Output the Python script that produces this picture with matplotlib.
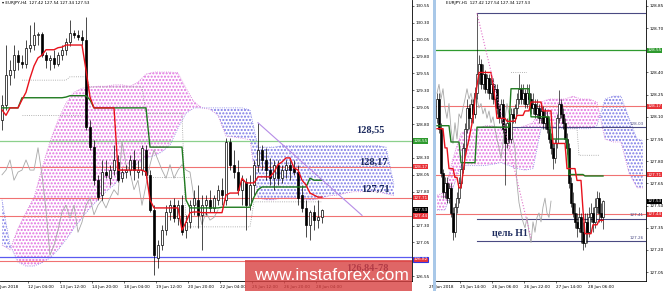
import numpy as np
import matplotlib
matplotlib.use('Agg')
import matplotlib.pyplot as plt
from matplotlib.patches import Rectangle

# ── EURJPY H4 (left panel) ────────────────────────────────────────────────────
h4_open = [128.86, 129.08, 129.53, 129.60, 129.82, 129.72, 129.69, 129.93, 129.97, 130.12,
           130.13, 129.82, 129.75, 129.78, 129.69, 129.82, 129.90, 130.01, 130.15, 130.12,
           130.09, 130.04, 128.76, 128.46, 127.97, 127.75, 128.09, 128.00, 128.12, 128.24,
           128.00, 128.09, 128.12, 128.27, 128.09, 128.12, 128.42, 128.05, 127.53, 126.82,
           127.01, 127.23, 127.50, 127.60, 127.41, 127.60, 127.23, 127.35, 127.60, 127.68,
           127.46, 127.60, 127.68, 127.56, 127.68, 127.83, 127.68, 128.54, 128.20, 128.09,
           127.83, 127.94, 127.60, 127.90, 128.20, 128.42, 128.27, 128.12, 128.00, 128.20,
           128.00, 128.12, 128.20, 128.15, 128.09, 127.75, 127.56, 127.31, 127.50, 127.38,
           127.42]
h4_high = [129.23, 129.97, 129.75, 129.97, 129.90, 129.82, 130.04, 130.27, 130.31, 130.16,
           130.16, 129.87, 129.82, 129.90, 129.87, 129.97, 130.07, 130.34, 130.19, 130.19,
           130.19, 130.38, 128.86, 128.57, 128.05, 128.27, 128.27, 128.20, 128.49, 128.34,
           128.15, 128.20, 128.34, 128.42, 128.27, 128.49, 128.49, 128.12, 127.60, 127.09,
           127.31, 127.60, 127.68, 127.71, 127.68, 127.75, 127.46, 127.68, 127.83, 127.90,
           127.75, 127.75, 127.83, 127.75, 127.90, 128.00, 128.60, 128.60, 128.42, 128.27,
           128.05, 128.00, 128.05, 128.27, 128.82, 128.49, 128.45, 128.30, 128.27, 128.27,
           128.20, 128.27, 128.27, 128.27, 128.20, 127.90, 127.68, 127.53, 127.60, 127.68,
           127.54]
h4_low = [128.71, 129.01, 129.38, 129.48, 129.60, 129.63, 129.63, 129.87, 129.90, 129.97,
          129.79, 129.63, 129.60, 129.63, 129.66, 129.75, 129.82, 129.96, 130.07, 130.04,
          129.97, 128.71, 128.42, 127.90, 127.68, 127.68, 128.00, 127.90, 128.05, 127.94,
          127.94, 128.00, 128.05, 127.97, 128.00, 128.05, 128.00, 127.50, 126.57, 126.67,
          126.94, 127.16, 127.38, 127.35, 127.31, 127.16, 127.12, 127.26, 127.46, 127.26,
          126.94, 127.46, 127.50, 127.50, 127.60, 127.60, 127.60, 128.12, 128.00, 127.75,
          127.60, 127.23, 127.53, 127.75, 128.09, 128.12, 127.97, 127.90, 127.83, 127.90,
          127.93, 128.00, 127.97, 128.05, 127.60, 127.50, 127.13, 127.09, 127.23, 127.26,
          127.34]
h4_close = [129.08, 129.53, 129.60, 129.82, 129.72, 129.69, 129.93, 129.97, 130.12, 130.13,
            129.82, 129.75, 129.78, 129.69, 129.82, 129.90, 130.01, 130.15, 130.12, 130.09,
            130.04, 128.76, 128.46, 127.97, 127.72, 128.09, 128.05, 128.12, 128.27, 127.97,
            128.09, 128.12, 128.27, 128.12, 128.12, 128.45, 128.05, 127.53, 126.86, 127.01,
            127.23, 127.50, 127.60, 127.41, 127.60, 127.20, 127.35, 127.60, 127.71, 127.46,
            127.60, 127.68, 127.56, 127.71, 127.83, 127.75, 128.54, 128.20, 128.09, 127.83,
            127.97, 127.60, 127.90, 128.20, 128.42, 128.27, 128.12, 128.00, 128.20, 128.00,
            128.12, 128.20, 128.12, 128.09, 127.71, 127.56, 127.31, 127.50, 127.38, 127.42,
            127.53]

h4_tenkan = ([129.01, 128.93] + [129.04] * 3 + [129.16, 129.27, 129.48, 129.66, 129.78, 129.82]
             + [129.90] * 3 + [129.93, 129.94] + [129.97] * 5 + [129.60, 129.20] + [129.04] * 6
             + [128.12] * 7 + [128.09, 127.68] + [127.56] * 7 + [127.23, 127.35, 127.49]
             + [127.50] * 2 + [127.49] * 6 + [127.75] + [127.78] * 3 + [128.00] + [127.93] * 3
             + [128.02] * 4 + [128.09, 128.20, 128.24] + [128.30] * 2
             + [128.15, 128.12, 127.97, 127.90, 127.78, 127.75] + [127.72] * 2)
h4_kijun = ([129.04] * 5 + [129.19] * 11 + [129.20] + [129.22] * 5 + [129.16] + [129.04] * 14
            + [128.46] * 9 + [127.68] + [127.56] * 8 + [127.57] * 8 + [127.72, 127.83]
            + [127.87] * 12 + [128.00] + [127.97] * 3)

h4_cloud_x = list(range(0, 100, 2))
h4_span_a = [127.01, 126.94, 127.26, 127.50, 127.71, 128.15, 128.54, 128.86, 129.11, 129.27,
             129.33, 129.35, 129.36, 129.36, 129.38, 129.38, 129.36, 129.42, 129.54, 129.57,
             129.57, 129.57, 129.56, 129.33, 129.13, 129.04, 129.02, 128.93, 128.62, 128.61,
             128.59, 128.57, 127.71, 127.68, 127.68, 127.71, 127.71, 127.71, 127.68, 127.68,
             127.71, 127.74, 127.75, 127.78, 127.80, 127.80, 127.80, 127.80, 127.77, 127.74]
h4_span_b = [127.68, 127.01, 126.76, 126.70, 126.70, 126.75, 126.82, 126.94, 127.09, 127.26,
             127.41, 127.56, 127.68, 127.80, 127.90, 128.03, 128.15, 128.22, 128.30, 128.33,
             128.39, 128.49, 128.74, 128.96, 129.04, 129.04, 129.04, 129.04, 129.04, 129.04,
             129.04, 129.01, 128.46, 128.46, 128.46, 128.48, 128.48, 128.48, 128.48, 128.48,
             128.48, 128.48, 128.48, 128.48, 128.48, 128.48, 128.48, 128.48, 128.46, 127.90]

nan = np.nan
h4_grey_a = ([nan] * 5 + [129.45] * 12 + [129.50] * 5 + [129.35] * 14 + [128.96] * 10
             + [127.28] * 17 + [127.65] * 18)
h4_grey_b = [nan] * 5 + [128.93] * 16 + [nan] * 15 + [128.02] * 12 + [nan] * 33

h4_tick_pos = [6.5, 14.5, 22.5, 30.5, 38.5, 46.5, 54.5, 62.5, 70.5, 78.5]
h4_tick_lab = ['12 Jun 04:00', '13 Jun 12:00', '14 Jun 20:00', '18 Jun 04:00', '19 Jun 12:00',
               '20 Jun 20:00', '22 Jun 04:00', '25 Jun 12:00', '26 Jun 20:00', '28 Jun 04:00']
h4_yticks = [126.55, 127.05, 127.30, 127.80, 128.05, 128.30,
             128.80, 129.05, 129.30, 129.55, 129.80, 130.05, 130.30, 130.55]
h4_trend = ([64, 90], [128.82, 127.45])

# ── EURJPY H1 (right panel) ───────────────────────────────────────────────────
h1_open = [128.09, 128.22, 128.02, 127.72, 127.59, 127.65, 127.55, 127.62, 127.45, 127.32,
           127.49, 127.55, 127.65, 127.75, 127.89, 128.02, 128.16, 128.09, 128.19, 128.12,
           128.26, 128.39, 128.46, 128.32, 128.39, 128.29, 128.36, 128.26, 128.32, 128.22,
           128.29, 128.16, 128.09, 128.19, 128.02, 127.92, 128.06, 127.95, 128.12, 128.09,
           128.16, 128.22, 128.29, 128.22, 128.26, 128.19, 128.26, 128.22, 128.16, 128.19,
           128.12, 128.16, 128.09, 128.14, 128.06, 128.10, 128.02, 127.95, 127.89, 127.82,
           127.92, 128.09, 128.19, 128.12, 128.06, 127.95, 127.89, 127.65, 127.52, 127.45,
           127.39, 127.35, 127.42, 127.32, 127.25, 127.39, 127.32, 127.42, 127.45, 127.39,
           127.49, 127.55, 127.45, 127.42]
h1_high = [128.26, 128.26, 128.06, 127.75, 127.69, 127.69, 127.65, 127.65, 127.49, 127.52,
           127.59, 127.69, 127.79, 127.92, 128.06, 128.22, 128.19, 128.22, 128.22, 128.30,
           128.80, 128.52, 128.49, 128.46, 128.42, 128.39, 128.39, 128.36, 128.36, 128.32,
           128.32, 128.19, 128.22, 128.22, 128.06, 128.09, 128.09, 128.16, 128.16, 128.19,
           128.26, 128.39, 128.32, 128.32, 128.29, 128.32, 128.32, 128.26, 128.26, 128.22,
           128.22, 128.19, 128.19, 128.17, 128.16, 128.14, 128.06, 127.99, 127.92, 127.95,
           128.12, 128.28, 128.22, 128.16, 128.09, 127.99, 127.92, 127.69, 127.59, 127.52,
           127.45, 127.49, 127.45, 127.39, 127.45, 127.45, 127.49, 127.52, 127.49, 127.55,
           127.60, 127.59, 127.52, 127.54]
h1_low = [128.06, 127.99, 127.69, 127.55, 127.55, 127.52, 127.52, 127.42, 127.27, 127.29,
          127.45, 127.52, 127.62, 127.72, 127.85, 127.99, 128.02, 128.06, 128.06, 128.09,
          128.22, 128.32, 128.29, 128.29, 128.26, 128.26, 128.22, 128.22, 128.19, 128.19,
          128.12, 128.06, 128.06, 127.99, 127.64, 127.89, 127.92, 127.92, 128.06, 128.06,
          128.12, 128.19, 128.19, 128.19, 128.16, 128.16, 128.19, 128.12, 128.12, 128.09,
          128.09, 128.06, 128.06, 128.02, 128.02, 127.99, 127.92, 127.85, 127.75, 127.79,
          127.89, 128.06, 128.09, 128.02, 127.92, 127.85, 127.62, 127.49, 127.42, 127.35,
          127.29, 127.32, 127.25, 127.20, 127.22, 127.25, 127.29, 127.39, 127.32, 127.35,
          127.45, 127.39, 127.39, 127.34]
h1_close = [128.22, 128.02, 127.72, 127.59, 127.65, 127.55, 127.62, 127.45, 127.32, 127.49,
            127.55, 127.65, 127.75, 127.89, 128.02, 128.16, 128.09, 128.19, 128.12, 128.26,
            128.39, 128.46, 128.32, 128.39, 128.29, 128.36, 128.26, 128.32, 128.22, 128.29,
            128.16, 128.09, 128.19, 128.02, 127.92, 128.06, 127.95, 128.12, 128.09, 128.16,
            128.22, 128.29, 128.22, 128.26, 128.19, 128.26, 128.22, 128.16, 128.19, 128.12,
            128.16, 128.09, 128.14, 128.06, 128.10, 128.02, 127.95, 127.89, 127.82, 127.92,
            128.09, 128.19, 128.12, 128.06, 127.95, 127.89, 127.65, 127.52, 127.45, 127.39,
            127.35, 127.42, 127.32, 127.25, 127.39, 127.32, 127.42, 127.45, 127.39, 127.49,
            127.55, 127.45, 127.42, 127.53]

h1_tenkan = ([128.02] * 4 + [127.89] * 2 + [127.75] * 3 + [127.69] * 2 + [127.62] * 2
             + [127.72, 127.82, 127.89, 127.95, 128.02, 128.09, 128.22, 128.31] + [128.40] * 7
             + [128.32, 128.22] + [128.09] * 5 + [128.07] * 5 + [128.11] * 4 + [128.14] * 3
             + [128.20] * 6 + [128.14] * 5 + [127.92] * 7 + [127.75] * 5 + [127.67] * 3
             + [127.47] + [127.31] * 4 + [127.37] * 3 + [127.40] * 3)
h1_kijun = ([128.04] * 7 + [127.93] * 5 + [127.79] * 8 + [128.03] * 17 + [128.29] * 10
            + [128.10] * 10 + [127.95] * 9 + [127.71] * 8 + [127.70] * 10)

h1_cloud_x = list(range(0, 101, 4)) + [103]
h1_span_a = [127.57, 127.59, 127.82, 127.99, 128.01, 128.02, 128.04, 128.04, 128.02, 128.01,
             128.02, 128.04, 128.06, 128.20, 128.22, 128.22, 128.22, 128.24, 128.22, 128.22,
             128.20, 127.95, 127.93, 127.93, 127.72, 127.62, 127.62]
h1_span_b = [127.47, 127.47, 127.62, 127.77, 127.77, 127.77, 127.77, 127.78, 127.79, 127.77,
             127.75, 127.74, 127.75, 128.02, 128.02, 128.02, 128.02, 128.02, 128.02, 128.02,
             128.04, 128.22, 128.24, 128.24, 128.09, 127.95, 127.94]

h1_grey = [nan] * 37 + [128.40] * 9 + [nan] * 17 + [128.02] * 8 + [127.84] * 11 + [nan] * 2

h1_tick_pos = [11.5, 27.5, 43.5, 59.5, 75.5]
h1_tick_lab = ['25 Jun 14:00', '26 Jun 06:00', '26 Jun 22:00', '27 Jun 14:00', '28 Jun 06:00']
h1_yticks = [127.05, 127.20, 127.35, 127.50, 127.65, 127.80, 127.95, 128.10, 128.25,
             128.40, 128.70, 128.85]
h1_target_from = 20
h1_target_lines = [128.80, 128.03, 127.41, 127.26]
h1_diag = ([20, 47], [128.80, 127.28])

RED = '#f07272'
NAVY = '#1d2b5e'
SMALL = 3.0


def candles(ax, o, h, l, c, width, lw):
    o, h, l, c = map(np.asarray, (o, h, l, c))
    x = np.arange(len(o))
    up = c >= o
    ax.vlines(x, l, h, color='black', lw=lw, zorder=3)
    ax.bar(x[up], c[up] - o[up], bottom=o[up], width=width, facecolor='white',
           edgecolor='black', linewidth=lw, zorder=4)
    ax.bar(x[~up], o[~up] - c[~up], bottom=c[~up], width=width, facecolor='black',
           edgecolor='black', linewidth=lw, zorder=4)


def cloud(ax, x, a, b):
    a, b = np.asarray(a), np.asarray(b)
    ax.fill_between(x, a, b, where=a >= b, interpolate=True, facecolor='none',
                    edgecolor='#e070e0', hatch='.....', linewidth=0, zorder=1)
    ax.fill_between(x, a, b, where=a < b, interpolate=True, facecolor='none',
                    edgecolor='#7c78e6', hatch='.....', linewidth=0, zorder=1)
    ax.plot(x, a, color='#d77ad7', lw=0.6, ls=':', zorder=1)
    ax.plot(x, b, color='#8a86e6', lw=0.6, ls=':', zorder=1)


def tag(ax, price, color, dx, text=None, edge='none'):
    ax.text(1.0 + dx, price, text or f'{price:.2f}', transform=ax.get_yaxis_transform(),
            ha='left', va='center', fontsize=SMALL, color='white', clip_on=False, zorder=10,
            bbox=dict(boxstyle='square,pad=0.15', fc=color, ec=edge, lw=0.8))


def style(ax, yticks, ylim, xlim, ticks, labels):
    ax.set_xlim(*xlim)
    ax.set_ylim(*ylim)
    ax.yaxis.tick_right()
    ax.set_yticks(yticks)
    ax.set_yticklabels([f'{v:.2f}' for v in yticks])
    ax.set_xticks(ticks, labels)
    ax.tick_params(axis='both', labelsize=SMALL, length=1.6, width=0.4, pad=1.2, colors='black')
    for s in ['top', 'left']:
        ax.spines[s].set_visible(False)
    for s in ['right', 'bottom']:
        ax.spines[s].set_linewidth(0.6)
    for lbl in ax.get_xticklabels():
        lbl.set_horizontalalignment('left')


fig = plt.figure(figsize=(6.65, 2.91), dpi=100)
fig.patch.set_facecolor('white')

# ── Left panel: H4 ────────────────────────────────────────────────────────────
ax1 = fig.add_axes([0, 10 / 291, 412 / 665, 281 / 291])
cloud(ax1, h4_cloud_x, h4_span_a, h4_span_b)
for lv in [128.17, 127.71, 127.44, 126.78]:
    ax1.axhline(lv, color=RED, lw=0.8, zorder=1.5)
ax1.axhline(128.55, color='#8cd08c', lw=0.9, zorder=1.5)
ax1.axhline(126.84, color='#5a5af0', lw=0.9, zorder=1.5)
ax1.plot(range(len(h4_grey_a)), h4_grey_a, color='#9a9a9a', lw=0.6, ls=':', zorder=2)
ax1.plot(range(len(h4_grey_b)), h4_grey_b, color='#9a9a9a', lw=0.6, ls=':', zorder=2)
ax1.plot(range(len(h4_close) - 26), h4_close[26:], color='#a8a8a8', lw=0.6, zorder=2)
candles(ax1, h4_open, h4_high, h4_low, h4_close, 0.62, 0.5)
ax1.plot(range(len(h4_kijun)), h4_kijun, color='#1f7a1f', lw=1.0, zorder=5)
ax1.plot(range(len(h4_tenkan)), h4_tenkan, color='#e8121c', lw=1.0, zorder=5)
ax1.plot(*h4_trend, color='#b68ce6', lw=0.8, zorder=5)

style(ax1, h4_yticks, (126.479, 130.636), (-0.5, 102.5), h4_tick_pos, h4_tick_lab)
ax1.text(-2.0, -0.014, '11 Jun 2018', transform=ax1.get_xaxis_transform(), fontsize=SMALL,
         ha='left', va='top', clip_on=False)
ax1.text(0.004, 0.996, '\u25be EURJPY,H4  127.42 127.54 127.34 127.53', transform=ax1.transAxes,
         fontsize=SMALL, va='top', ha='left')

for txt, x, y in [('128,55', 92.0, 128.71), ('128,17', 92.75, 128.24),
                  ('127,71', 93.25, 127.83), ('126,84-78', 91.25, 126.67)]:
    ax1.text(x, y, txt, fontsize=7.5, fontweight='bold', family='Liberation Serif',
             color=NAVY, ha='center', va='center', zorder=8)

tag(ax1, 128.55, '#2e9a2e', 0.003)
tag(ax1, 128.17, '#e8343a', 0.003)
tag(ax1, 127.71, '#e8343a', 0.003)
tag(ax1, 127.44, '#e8343a', 0.003)
tag(ax1, 127.53, 'black', 0.003)
tag(ax1, 126.80, '#e8343a', 0.003, text='126.82', edge='#3434e0')

# ── Right panel: H1 ───────────────────────────────────────────────────────────
ax2 = fig.add_axes([436 / 665, 10 / 291, 210 / 665, 281 / 291])
cloud(ax2, h1_cloud_x, h1_span_a, h1_span_b)
for lv in [128.17, 127.71, 127.44]:
    ax2.axhline(lv, color=RED, lw=0.8, zorder=1.5)
ax2.axhline(128.55, color='#2f9a2f', lw=0.9, zorder=1.5)
for lv in h1_target_lines:
    ax2.plot([h1_target_from, 104.5], [lv, lv], color='#4a4a82', lw=0.8, zorder=1.6)
for lv in h1_target_lines[1:]:
    ax2.text(103.5, lv + 0.01, f'{lv:.2f}', fontsize=SMALL, color='#4a4a82',
             ha='right', va='bottom', zorder=6)
ax2.plot(range(len(h1_grey)), h1_grey, color='#9a9a9a', lw=0.6, ls=':', zorder=2)
ax2.plot(range(len(h1_close) - 26), h1_close[26:], color='#a8a8a8', lw=0.6, zorder=2)
candles(ax2, h1_open, h1_high, h1_low, h1_close, 0.55, 0.45)
ax2.plot(range(len(h1_kijun)), h1_kijun, color='#1f7a1f', lw=1.0, zorder=5)
ax2.plot(range(len(h1_tenkan)), h1_tenkan, color='#e8121c', lw=1.0, zorder=5)
ax2.plot(*h1_diag, color='#e070c8', lw=0.8, ls=':', zorder=5)

style(ax2, h1_yticks, (126.99, 128.89), (-0.5, 104.5), h1_tick_pos, h1_tick_lab)
ax2.text(-4.0, -0.014, '25 Jun 2018', transform=ax2.get_xaxis_transform(), fontsize=SMALL,
         ha='left', va='top', clip_on=False)
ax2.text(0.05, 0.996, 'EURJPY,H1  127.42 127.54 127.34 127.53', transform=ax2.transAxes,
         fontsize=SMALL, va='top', ha='left')
ax2.text(36.5, 127.31, 'цель H1', fontsize=7, fontweight='bold', family='Liberation Serif',
         color=NAVY, ha='center', va='center', zorder=8)

tag(ax2, 128.55, '#2e9a2e', 0.006)
tag(ax2, 128.17, '#e8343a', 0.006)
tag(ax2, 127.71, '#e8343a', 0.006)
tag(ax2, 127.44, '#e8343a', 0.006)
tag(ax2, 127.53, 'black', 0.006)

# ── Separator strip and watermark ─────────────────────────────────────────────
fig.add_artist(Rectangle((432.5 / 665, 0), 3.5 / 665, 1, transform=fig.transFigure,
                         facecolor='#a9c8e8', edgecolor='none', zorder=3))
fig.add_artist(Rectangle((245 / 665, 0), 167 / 665, 31 / 291, transform=fig.transFigure,
                         facecolor='#d84040', edgecolor='none', alpha=0.8, zorder=4))
fig.text(331 / 665, 15 / 291, 'www.instaforex.com', color='white', fontsize=12.5,
         family='Liberation Sans', ha='center', va='center', zorder=5)

fig.savefig('out.png', dpi=100)
